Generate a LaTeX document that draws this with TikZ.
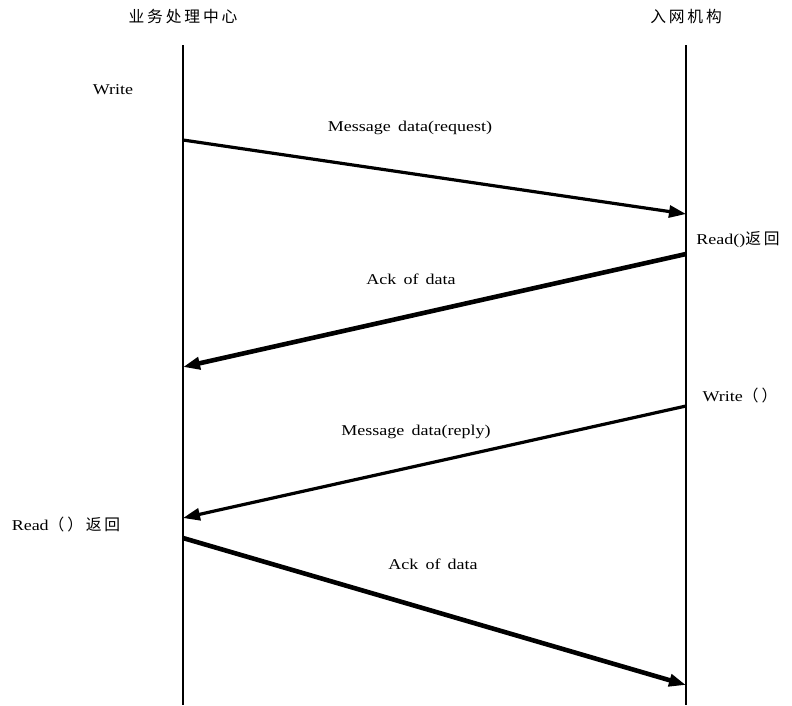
\documentclass[tikz,border=0pt]{standalone}
\usepackage{fontspec}
\setmainfont{Liberation Serif}[FakeStretch=1.2,WordSpace=1.6]
\newfontfamily\cjk{Noto Sans CJK SC}[Scale=1.05,LetterSpace=18]
\usetikzlibrary{arrows.meta}
\tikzset{
  msg/.style={-{Triangle[length=17pt,width=12pt]},line width=3.2pt},
  ack/.style={-{Triangle[length=17pt,width=12pt]},line width=4.6pt},
  lbl/.style={font=\fontsize{15}{17}\selectfont},
}
\begin{document}
\begin{tikzpicture}[x=1pt,y=-1pt]
\useasboundingbox (0,0) rectangle (792,705);

\node[lbl] (hdrL) at (183,17) {\cjk 业务处理中心};
\node[lbl] (hdrR) at (686,17) {\cjk 入网机构};

\coordinate (Ltop) at (183,45);
\coordinate (Lbot) at (183,705);
\coordinate (Rtop) at (686,45);
\coordinate (Rbot) at (686,705);
\draw[line width=1.8pt] (Ltop) -- (Lbot);
\draw[line width=1.8pt] (Rtop) -- (Rbot);

\coordinate (L1) at (183,140);
\coordinate (R1) at (686,214);
\coordinate (R2) at (686,254);
\coordinate (L2) at (183,367);
\coordinate (R3) at (686,406);
\coordinate (L3) at (183,518);
\coordinate (L4) at (183,538);
\coordinate (R4) at (686,685);

\draw[msg] (L1) -- (R1);
\draw[ack] (R2) -- (L2);
\draw[msg] (R3) -- (L3);
\draw[ack] (L4) -- (R4);

\node[lbl] (w1) at (113,90) {Write};
\node[lbl] (m1) at (410,128) {Message data(request)};
\node[lbl] (rd1) at (738,240) {Read()\cjk 返回};
\node[lbl] (a1) at (411,279) {Ack of data};
\node[lbl] (w2) at (740,396) {Write\cjk（）};
\node[lbl] (m2) at (416,432) {Message data(reply)};
\node[lbl] (rd2) at (66,525) {Read\cjk（）返回};
\node[lbl] (a2) at (433,564) {Ack of data};
\end{tikzpicture}
\end{document}
